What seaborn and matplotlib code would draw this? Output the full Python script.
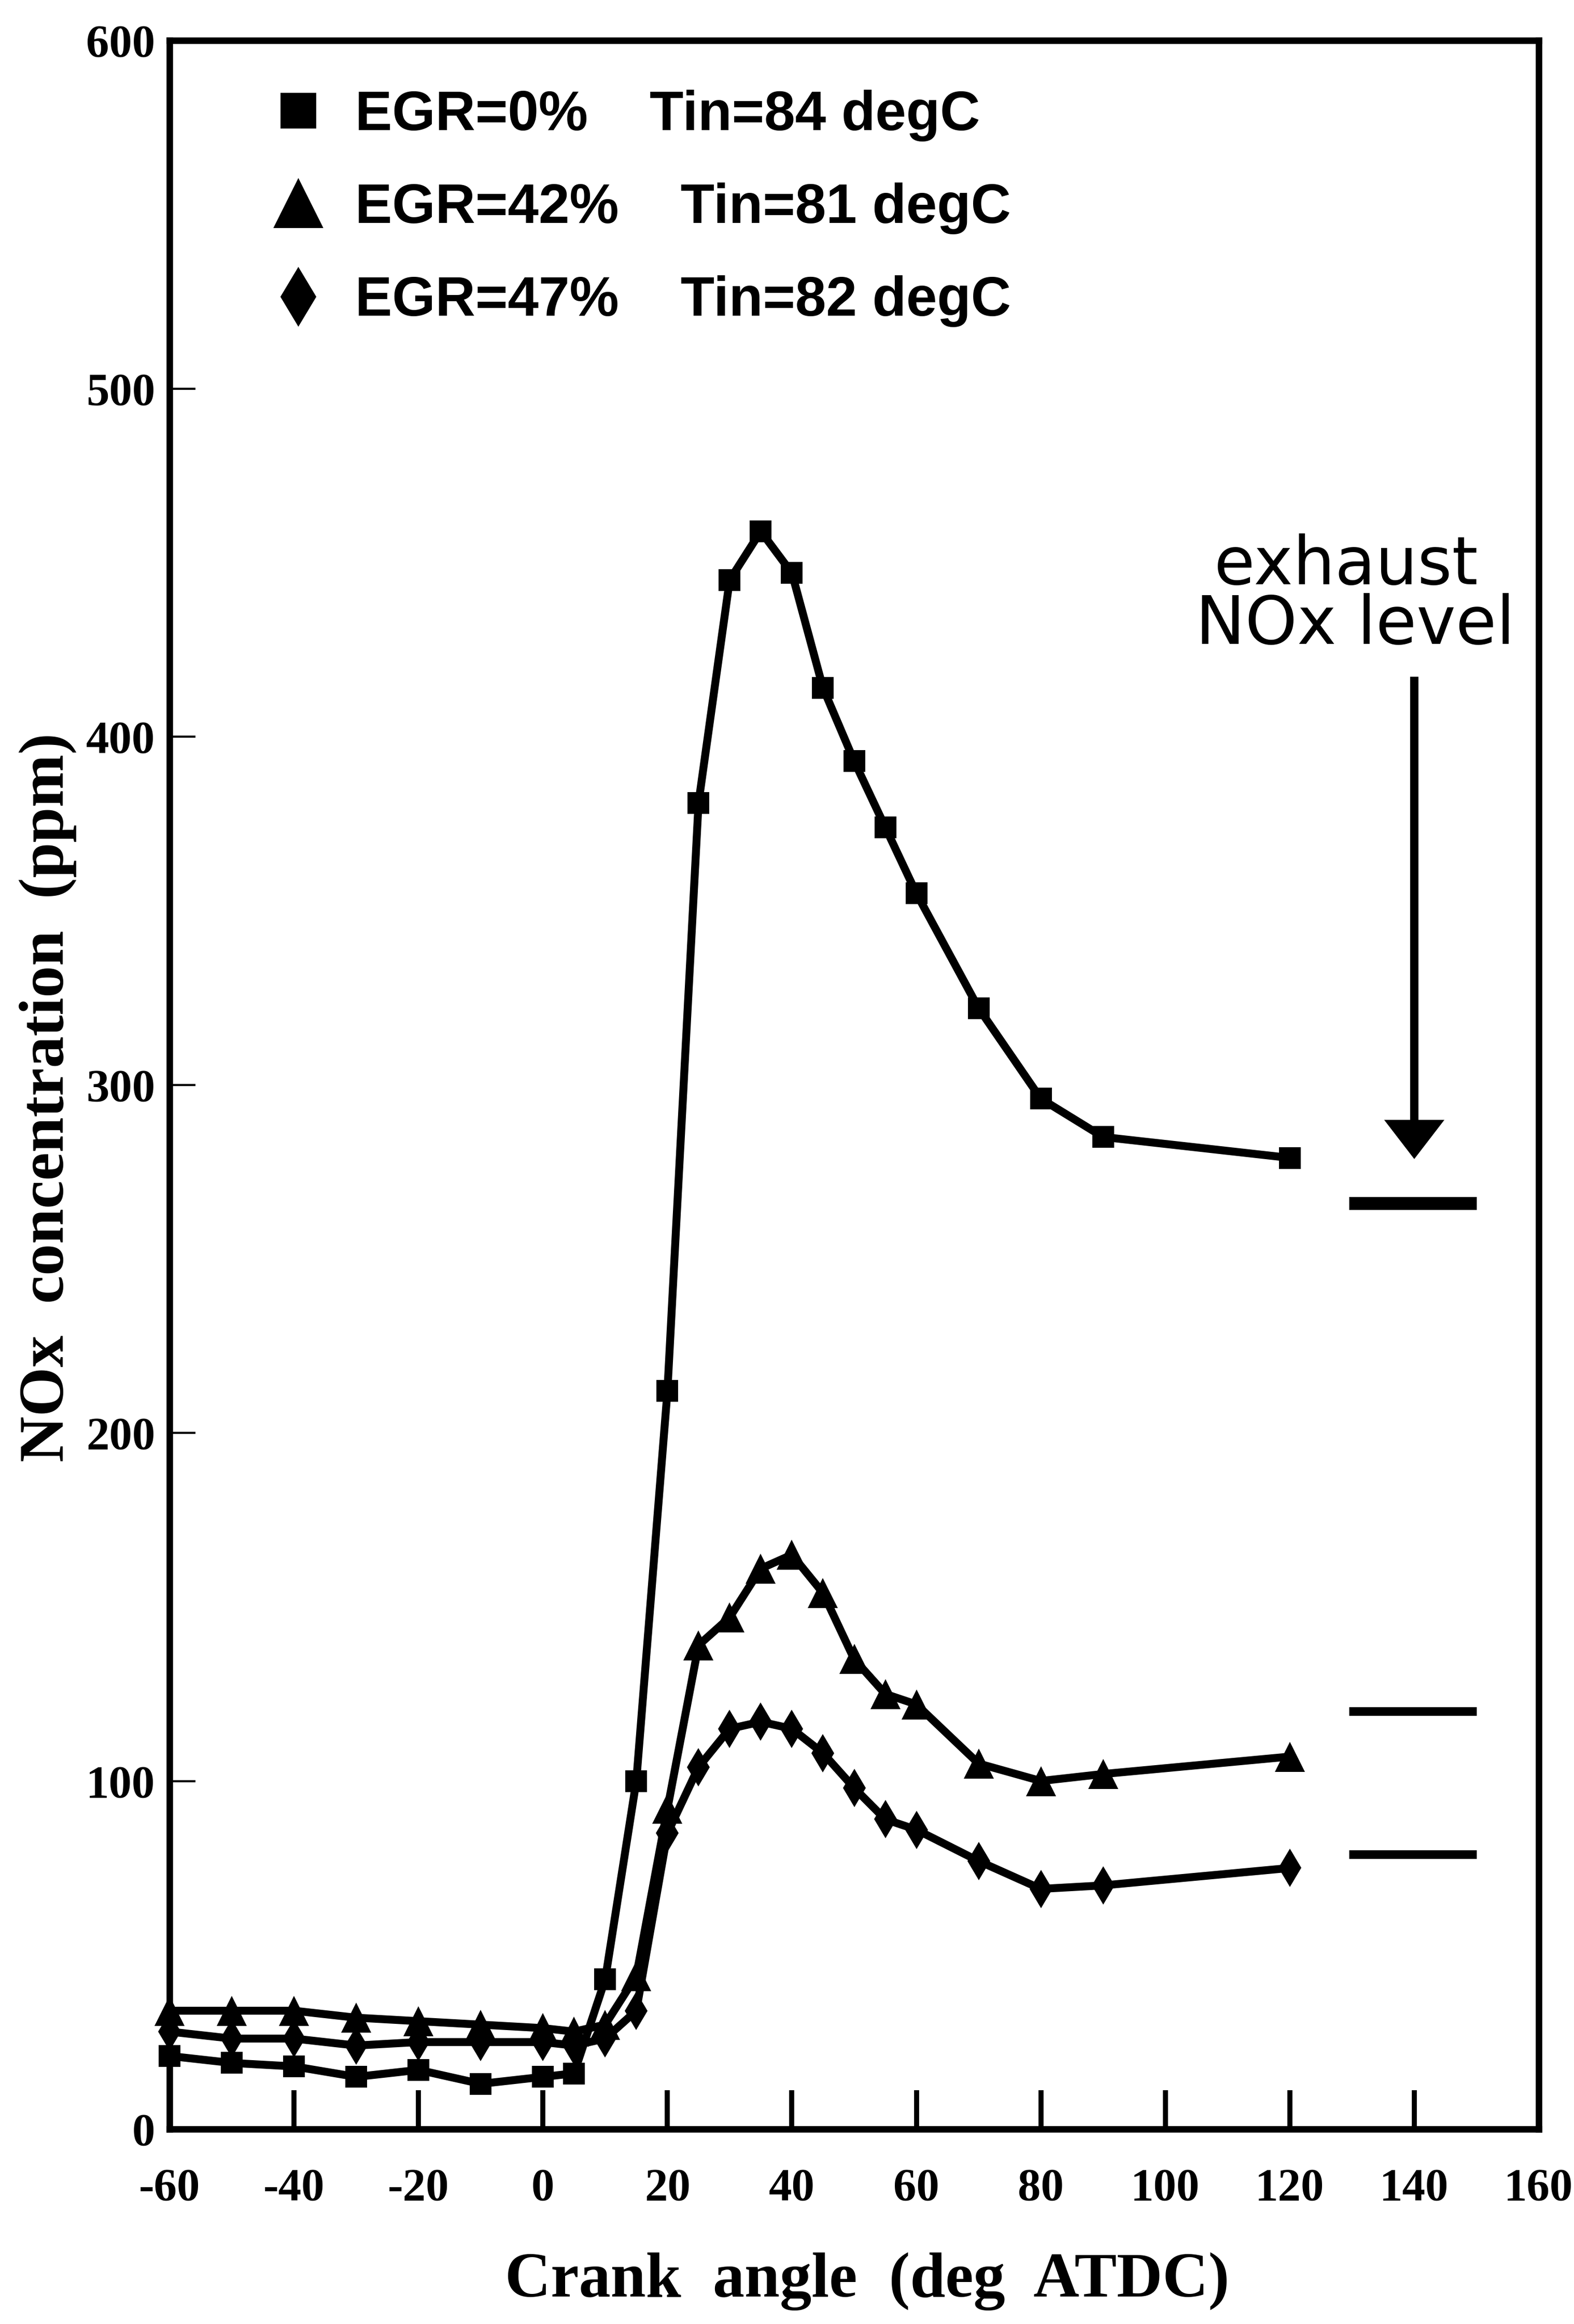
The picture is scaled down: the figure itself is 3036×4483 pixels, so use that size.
import matplotlib
matplotlib.use("Agg")
import matplotlib.pyplot as plt
import seaborn as sns
import pandas as pd
from matplotlib.lines import Line2D
from matplotlib.font_manager import FontProperties

# ---------------- data ----------------
crank_angle = [-60, -50, -40, -30, -20, -10, 0, 5, 10, 15, 20, 25, 30, 35, 40,
               45, 50, 55, 60, 70, 80, 90, 120]
nox_egr0 = [21, 19, 18, 15, 17, 13, 15, 16, 43, 100, 212, 381, 445, 459, 447,
            414, 393, 374, 355, 322, 296, 285, 279]
nox_egr42 = [34, 34, 34, 32, 31, 30, 29, 28, 30, 44, 92, 139, 147, 161, 165,
             154, 135, 125, 122, 105, 100, 102, 107]
nox_egr47 = [28, 26, 26, 24, 25, 25, 25, 24, 26, 34, 85, 104, 115, 117, 115,
             108, 98, 89, 86, 77, 69, 70, 75]

series_labels = ["EGR=0%    Tin=84 degC",
                 "EGR=42%    Tin=81 degC",
                 "EGR=47%    Tin=82 degC"]

exhaust_levels = [266, 120, 79]
exhaust_xrange = [129.5, 150]
exhaust_lw = [9, 6, 6]
arrow_x = 140
arrow_from = 417
arrow_to = 279

x_ticks = [-60, -40, -20, 0, 20, 40, 60, 80, 100, 120, 140, 160]
x_tick_labels = ["-60", "-40", "-20", "0", "20", "40", "60", "80", "100",
                 "120", "140", "160"]
y_ticks = [0, 100, 200, 300, 400, 500, 600]
y_tick_labels = ["0", "100", "200", "300", "400", "500", "600"]

# ---------------- style ----------------
sns.set_theme(style="white")
plt.rcParams["font.family"] = ["Liberation Serif", "DejaVu Serif"]
plt.rcParams["text.color"] = "black"
plt.rcParams["axes.labelcolor"] = "black"
plt.rcParams["xtick.color"] = "black"
plt.rcParams["ytick.color"] = "black"

fig = plt.figure(figsize=(15.18, 22.415), dpi=200)
ax = fig.add_axes([0.10771, 0.08387, 0.86989, 0.89873])

df = pd.DataFrame({"angle": crank_angle, "egr0": nox_egr0,
                   "egr42": nox_egr42, "egr47": nox_egr47})

line_kw = dict(color="black", linewidth=5.5, markeredgecolor="black",
               markeredgewidth=0, clip_on=False, legend=False)
sns.lineplot(data=df, x="angle", y="egr0", marker="s", markersize=15, ax=ax, **line_kw)
sns.lineplot(data=df, x="angle", y="egr42", marker="^", markersize=21, ax=ax, **line_kw)
sns.lineplot(data=df, x="angle", y="egr47", marker="d", markersize=19, ax=ax, **line_kw)

# exhaust NOx levels
for lvl, lw in zip(exhaust_levels, exhaust_lw):
    ax.plot(exhaust_xrange, [lvl, lvl], color="black", linewidth=lw,
            solid_capstyle="butt")

ax.arrow(arrow_x, arrow_from, 0, arrow_to - arrow_from, width=1.1,
         head_width=9.2, head_length=10.7, length_includes_head=True,
         color="black")

sans_reg = dict(family=["DejaVu Sans"], fontsize=46, color="black")
ax.text(129.0, 449, "exhaust", ha="center", va="center", **sans_reg)
ax.text(130.5, 432, "NOx level", ha="center", va="center", **sans_reg)

# axes
ax.set_xlim(-60, 160)
ax.set_ylim(0, 600)
ax.set_xticks(x_ticks)
ax.set_xticklabels(x_tick_labels)
ax.set_yticks(y_ticks)
ax.set_yticklabels(y_tick_labels)

for lab in ax.get_xticklabels() + ax.get_yticklabels():
    lab.set_fontfamily("Liberation Serif")
    lab.set_fontweight("bold")
    lab.set_fontsize(32)
    lab.set_color("black")

ax.tick_params(axis="x", direction="in", length=27, width=3.5, pad=27,
               colors="black", bottom=True, top=False)
ax.tick_params(axis="y", direction="in", length=18, width=1.5, pad=10,
               colors="black", left=True, right=False)

for sp in ax.spines.values():
    sp.set_visible(True)
    sp.set_linewidth(4.5)
    sp.set_color("black")

ax.set_xlabel("Crank  angle  (deg  ATDC)", fontfamily="Liberation Serif",
              fontweight="bold", fontsize=44, va="center", color="black")
ax.xaxis.set_label_coords(0.5095, -0.073)
ax.set_ylabel("NOx  concentration  (ppm)", fontfamily="Liberation Serif",
              fontweight="bold", fontsize=44, va="center", color="black")
ax.yaxis.set_label_coords(-0.089, 0.494)

# legend
handles = [
    Line2D([], [], marker="s", ls="none", color="black", markersize=24),
    Line2D([], [], marker="^", ls="none", color="black", markersize=33),
    Line2D([], [], marker="d", ls="none", color="black", markersize=28),
]
leg = ax.legend(handles, series_labels, loc="upper left",
                bbox_to_anchor=(0.0735, 0.9765), frameon=False,
                prop=FontProperties(family="Liberation Sans", weight="bold", size=38.5),
                handlelength=1.0, handletextpad=0.53, labelspacing=0.74,
                borderpad=0, borderaxespad=0, labelcolor="black")

fig.savefig("out.png", dpi=200, facecolor="white")
